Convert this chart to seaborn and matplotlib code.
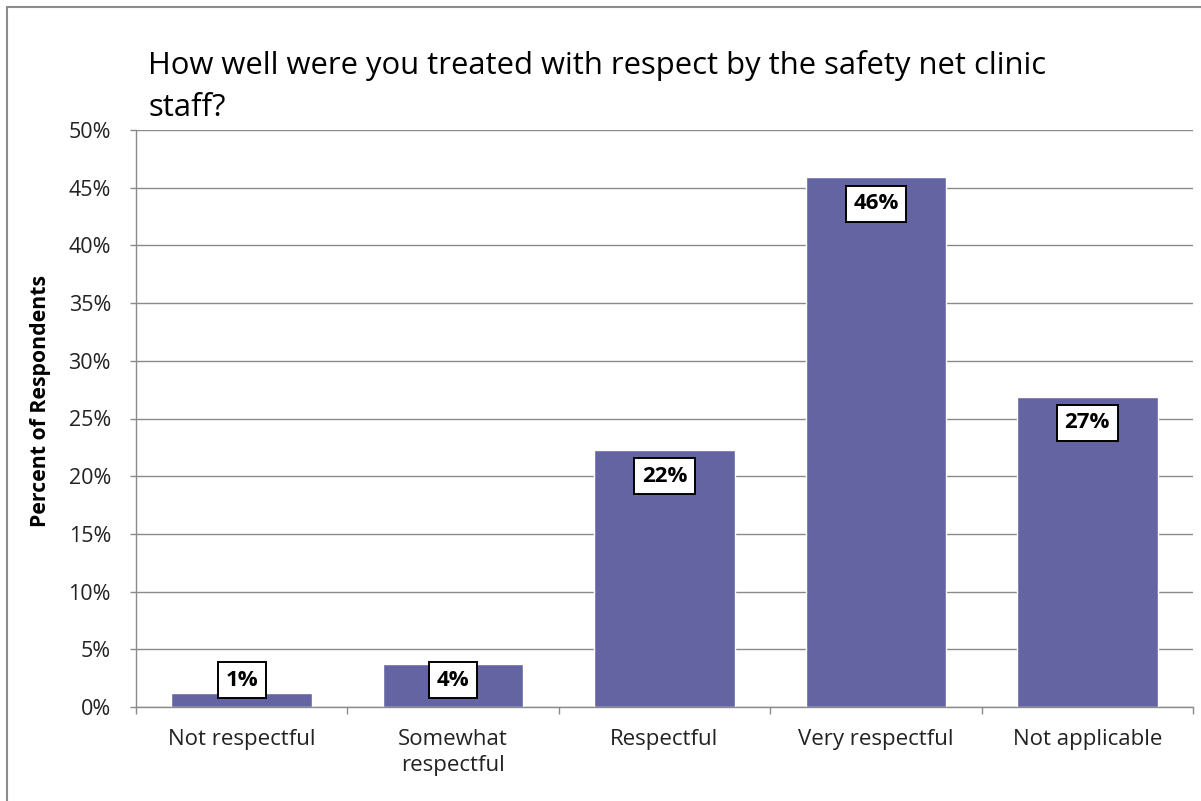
import matplotlib
matplotlib.use("Agg")
import matplotlib.pyplot as plt
from matplotlib.ticker import PercentFormatter, FixedLocator
from matplotlib.patches import Rectangle
import seaborn as sns
import pandas as pd

categories = ["Not respectful", "Somewhat\nrespectful", "Respectful", "Very respectful", "Not applicable"]
values = [1.2, 3.7, 22.3, 45.9, 26.9]
labels = ["1%", "4%", "22%", "46%", "27%"]
title = "How well were you treated with respect by the safety net clinic\nstaff?"
ylabel = "Percent of Respondents"
yticks = [0, 5, 10, 15, 20, 25, 30, 35, 40, 45, 50]

sns.set_theme(style="white")
plt.rcParams["font.family"] = ["Open Sans", "DejaVu Sans"]

W, H = 1201, 801
fig = plt.figure(figsize=(W / 100, H / 100), dpi=100)
fig.patch.set_facecolor("white")
ax = fig.add_axes([136 / W, (H - 707) / H, (1193 - 136) / W, (707 - 130) / H])

df = pd.DataFrame({"cat": categories, "val": values})
sns.barplot(data=df, x="cat", y="val", color="#6464a3", saturation=1, width=0.665, ax=ax)

ax.set_ylim(0, 50)
ax.set_xlim(-0.5, len(categories) - 0.5)
ax.yaxis.set_major_locator(FixedLocator(yticks))
ax.yaxis.set_major_formatter(PercentFormatter(decimals=0))
ax.grid(axis="y", color="#8a8a8a", linewidth=1.0)
ax.set_axisbelow(True)
for s in ["top", "right"]:
    ax.spines[s].set_visible(False)
for s in ["left", "bottom"]:
    ax.spines[s].set_color("#8a8a8a")
    ax.spines[s].set_linewidth(1.0)

ax.tick_params(axis="y", which="major", length=4, width=1, color="#8a8a8a", pad=14,
               labelsize=15.5, labelcolor="#222222", left=True)
ax.tick_params(axis="x", which="major", length=0, pad=16, labelsize=16, labelcolor="#222222")
ax.set_xticks([i + 0.5 for i in range(-1, len(categories))], minor=True)
ax.tick_params(axis="x", which="minor", length=5, width=1, color="#8a8a8a", bottom=True)
for t in ax.get_xticklabels():
    t.set_linespacing(1.3)

ax.set_xlabel("")
ax.set_ylabel(ylabel, fontsize=15.3, fontweight="bold", color="black")
ax.yaxis.set_label_coords((51 - 136) / (1193 - 136), (707 - 401) / (707 - 130))

for i, (v, lab) in enumerate(zip(values, labels)):
    ax.annotate(lab, xy=(i, max(v, 4.6)), xytext=(0, -19), textcoords="offset points",
                ha="center", va="center", fontsize=16, fontweight="bold", color="black",
                bbox=dict(boxstyle="square,pad=0.34", facecolor="white", edgecolor="black", linewidth=1.4))

fig.text(148 / W, (H - 50) / H, title, ha="left", va="top", fontsize=22.3,
         color="black", linespacing=1.5)

fig.add_artist(Rectangle((7 / W, -0.1), 1.2, (H - 6.5) / H + 0.1, transform=fig.transFigure,
                         fill=False, edgecolor="#8c8c8c", linewidth=1.5))

fig.savefig("out.png", dpi=100)
